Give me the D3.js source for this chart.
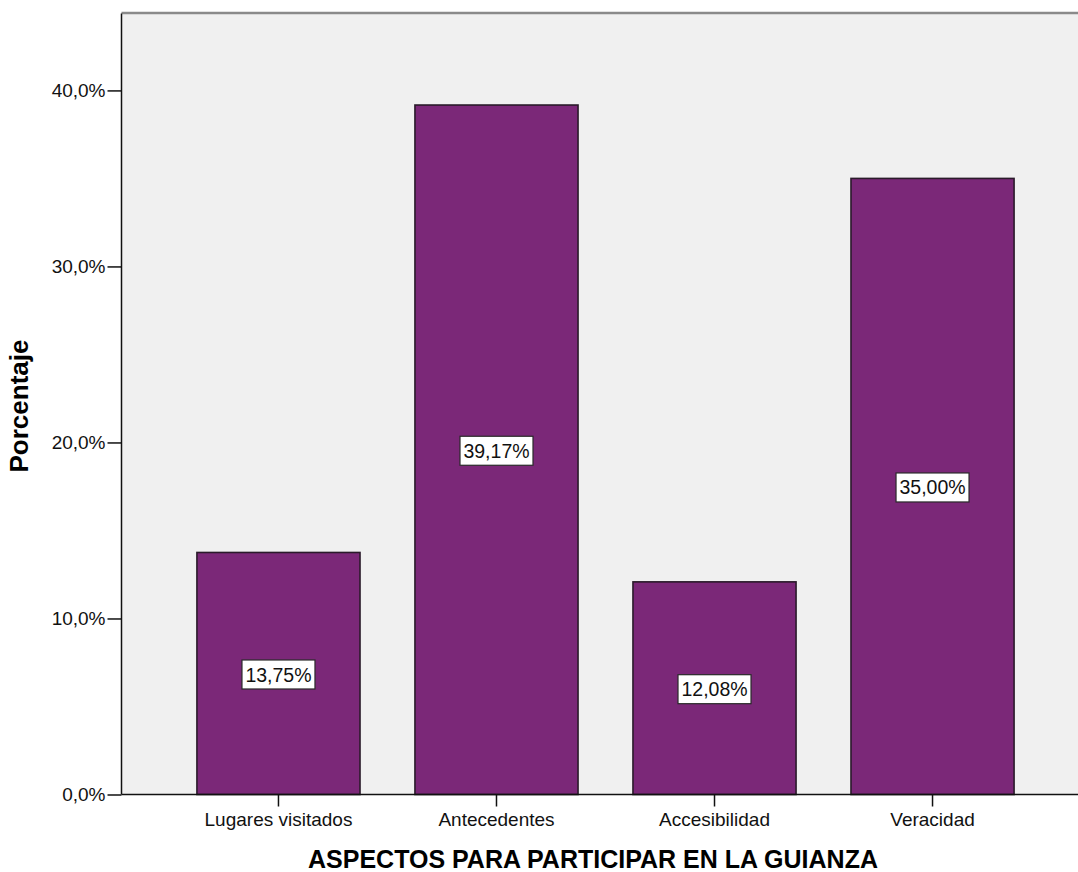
<!DOCTYPE html>
<html>
<head>
<meta charset="utf-8">
<script src="https://cdn.jsdelivr.net/npm/d3@7"></script>
<style>
  html, body { margin: 0; padding: 0; background: #ffffff; }
  svg { display: block; }
</style>
</head>
<body>
<svg id="chart" width="1078" height="872"></svg>
<script>
const categories = ["Lugares visitados", "Antecedentes", "Accesibilidad", "Veracidad"];
const values = [13.75, 39.17, 12.08, 35.00];
const valueLabels = ["13,75%", "39,17%", "12,08%", "35,00%"];
const yTicks = [0, 10, 20, 30, 40];
const yTickLabels = ["0,0%", "10,0%", "20,0%", "30,0%", "40,0%"];
const xTitle = "ASPECTOS PARA PARTICIPAR EN LA GUIANZA";
const yTitle = "Porcentaje";

const svg = d3.select("#chart");
const pLeft = 121.5, pTop = 13.5, pBottom = 794.5, pRight = 1089.5;
const font = "'Liberation Sans', Arial, sans-serif";

const x = d3.scaleBand().domain(categories).range([pLeft, pRight])
  .paddingInner(0.252).paddingOuter(0.346);
const y = d3.scaleLinear().domain([0, 44.37]).range([pBottom, pTop]);

// plot background
svg.append("rect").attr("x", pLeft).attr("y", pTop)
  .attr("width", pRight - pLeft).attr("height", pBottom - pTop)
  .attr("fill", "#f0f0f0");
// top frame line
svg.append("line").attr("x1", pLeft).attr("x2", pRight).attr("y1", pTop - 0.5).attr("y2", pTop - 0.5)
  .attr("stroke", "#8a8a8a").attr("stroke-width", 2.5);

// bars
svg.selectAll("rect.bar").data(values).enter().append("rect")
  .attr("class", "bar")
  .attr("x", (d, i) => x(categories[i]))
  .attr("y", d => y(d))
  .attr("width", x.bandwidth())
  .attr("height", d => y(0) - y(d))
  .attr("fill", "#7b2878")
  .attr("stroke", "#2a1a2a")
  .attr("stroke-width", 1.6);

// value labels
const lg = svg.selectAll("g.lab").data(values).enter().append("g").attr("class", "lab")
  .attr("transform", (d, i) => `translate(${x(categories[i]) + x.bandwidth() / 2},${y(d / 2) + 1})`);
lg.append("rect").attr("x", -36.5).attr("y", -14.5).attr("width", 73).attr("height", 29)
  .attr("fill", "#ffffff").attr("stroke", "#2a2a2a").attr("stroke-width", 1.2);
lg.append("text").text((d, i) => valueLabels[i])
  .attr("text-anchor", "middle").attr("dy", "0.36em")
  .attr("font-family", font).attr("font-size", 19.5).attr("fill", "#111");

// y axis
const yAxis = d3.axisLeft(y).tickValues(yTicks)
  .tickFormat((d, i) => yTickLabels[i]).tickSize(14).tickPadding(2);
const gy = svg.append("g").attr("transform", `translate(${pLeft},0)`).call(yAxis);
gy.select(".domain").attr("stroke", "#111").attr("stroke-width", 1.5).attr("d", `M0,${pTop}V${pBottom}`);
gy.selectAll(".tick line").attr("stroke", "#111").attr("stroke-width", 1.5);
gy.selectAll(".tick text").attr("font-family", font).attr("font-size", 19).attr("fill", "#111");

// x axis
const xAxis = d3.axisBottom(x).tickSize(12).tickPadding(6);
const gx = svg.append("g").attr("transform", `translate(0,${pBottom})`).call(xAxis);
gx.select(".domain").attr("stroke", "#111").attr("stroke-width", 1.5).attr("d", `M${pLeft},0H${pRight}`);
gx.selectAll(".tick line").attr("stroke", "#111").attr("stroke-width", 1.5);
gx.selectAll(".tick text").attr("font-family", font).attr("font-size", 19).attr("fill", "#111");

// axis titles
svg.append("text").text(xTitle)
  .attr("x", 593).attr("y", 868).attr("text-anchor", "middle")
  .attr("font-family", font).attr("font-weight", "bold").attr("font-size", 25).attr("fill", "#000");
svg.append("text").text(yTitle)
  .attr("transform", "translate(28,406) rotate(-90)").attr("text-anchor", "middle")
  .attr("font-family", font).attr("font-weight", "bold").attr("font-size", 26).attr("fill", "#000");
</script>
</body>
</html>
